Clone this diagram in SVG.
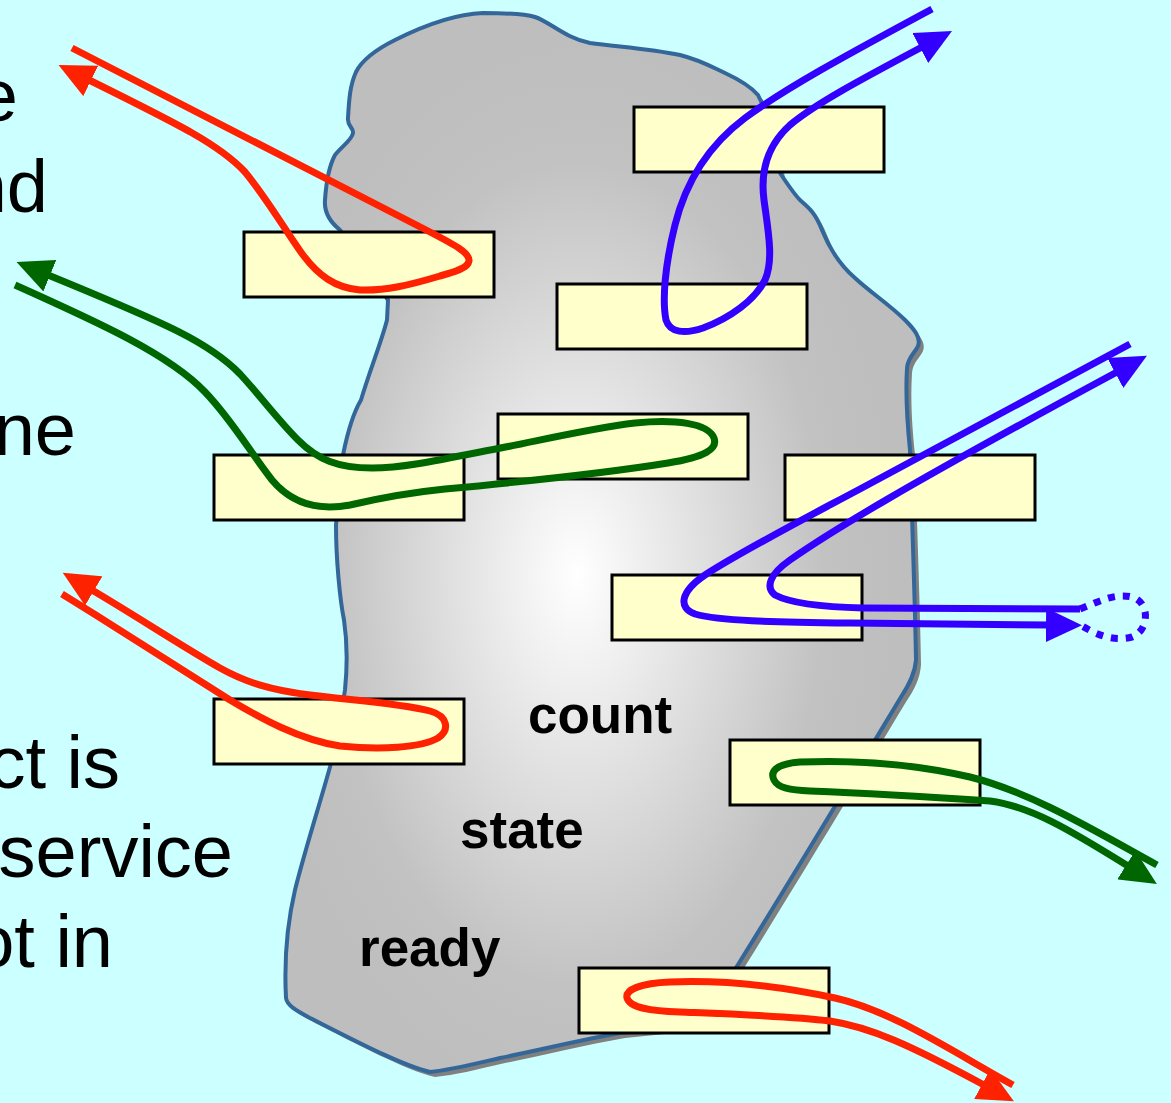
<svg xmlns="http://www.w3.org/2000/svg" width="1171" height="1103" viewBox="0 0 1171 1103">
  <style>
    .bg { fill: #CCFFFF; }
    .box { fill: #FFFFCC; stroke: #000000; stroke-width: 3; }
    .blob { stroke: #336699; stroke-width: 4; stroke-linejoin: round; }
    .shadow { fill: #808080; }
    .lbl { font-family: "Liberation Sans", Arial, sans-serif; font-weight: bold; font-size: 53px; fill: #000000; }
    .side { font-family: "Liberation Sans", Arial, sans-serif; font-size: 74px; fill: #000000; text-anchor: end; }
    .c { fill: none; stroke-width: 7; stroke-linecap: butt; stroke-linejoin: round; }
    .red { stroke: #FF2200; }
    .green { stroke: #006600; }
    .blue { stroke: #3300FF; }
    .dots { stroke-dasharray: 7 8; }
  </style>
  <defs>
    <radialGradient id="grey" cx="0.46" cy="0.53" r="0.5">
      <stop offset="0" stop-color="#FFFFFF"/>
      <stop offset="0.78" stop-color="#C2C2C2"/>
      <stop offset="1" stop-color="#BEBEBE"/>
    </radialGradient>
    <marker id="aRed" viewBox="0 0 36 34" markerWidth="36" markerHeight="34" refX="2" refY="17" orient="auto" markerUnits="userSpaceOnUse">
      <path d="M0,0 L36,17 L0,34 Z" fill="#FF2200"/>
    </marker>
    <marker id="aGreen" viewBox="0 0 36 34" markerWidth="36" markerHeight="34" refX="2" refY="17" orient="auto" markerUnits="userSpaceOnUse">
      <path d="M0,0 L36,17 L0,34 Z" fill="#006600"/>
    </marker>
    <marker id="aBlue" viewBox="0 0 36 34" markerWidth="36" markerHeight="34" refX="2" refY="17" orient="auto" markerUnits="userSpaceOnUse">
      <path d="M0,0 L36,17 L0,34 Z" fill="#3300FF"/>
    </marker>
    <path id="blobPath" d="M 483,13 C 505,13 525,14 535,17 C 550,22 565,38 590,43 C 620,47 650,49 680,55 C 700,60 712,67 725,73 C 740,80 752,88 758,95 L 770,120 L 780,173 C 788,185 795,195 800,200 C 808,207 815,212 822,230 C 830,250 840,265 855,278 C 870,292 890,305 905,320 C 915,330 921,338 918,346 C 915,353 908,357 907,368 C 905,400 908,430 910,450 C 912,520 915,600 916,660 C 915,674 909,685 901,697 C 860,765 800,865 739,963 L 700,1025 L 620,1033 C 580,1040 540,1050 500,1058 C 470,1065 450,1070 430,1072 C 400,1065 350,1038 310,1018 C 295,1010 287,1005 286,998 C 284,960 288,920 295,890 C 305,850 318,810 330,767 L 340,720 L 345,690 C 348,660 347,640 344,620 C 340,600 336,560 336,525 L 343,455 C 348,430 355,410 361,400 C 370,370 382,340 387,320 L 388,300 L 340,230 C 330,222 324,212 325,200 C 326,185 328,168 335,155 C 342,146 352,140 353,133 C 354,128 347,126 348,118 C 349,100 350,85 356,72 C 362,60 375,50 395,40 C 425,25 455,14 483,13 Z"/>
  </defs>

  <rect class="bg" x="0" y="0" width="1171" height="1103"/>

  <g id="side-text">
    <text class="side" x="18" y="121">e</text>
    <text class="side" x="48" y="212">nd</text>
    <text class="side" x="76" y="455">ne</text>
    <text class="side" x="120" y="788">ct is</text>
    <text class="side" x="233" y="877">service</text>
    <text class="side" x="113" y="967">ot in</text>
  </g>

  <g id="object">
    <use href="#blobPath" class="shadow" transform="translate(5,5)"/>
    <use href="#blobPath" class="blob" fill="url(#grey)"/>
  </g>

  <g id="labels">
    <text class="lbl" x="528" y="733">count</text>
    <text class="lbl" x="460" y="848">state</text>
    <text class="lbl" x="359" y="966">ready</text>
  </g>

  <g id="box1"><rect class="box" x="634" y="107" width="250" height="65"/></g>
  <g id="box2"><rect class="box" x="244" y="232" width="250" height="65"/></g>
  <g id="box3"><rect class="box" x="557" y="284" width="250" height="65"/></g>
  <g id="box4"><rect class="box" x="498" y="414" width="250" height="65"/></g>
  <g id="box5"><rect class="box" x="214" y="455" width="250" height="65"/></g>
  <g id="box6"><rect class="box" x="785" y="455" width="250" height="65"/></g>
  <g id="box7"><rect class="box" x="612" y="575" width="250" height="65"/></g>
  <g id="box8"><rect class="box" x="214" y="699" width="250" height="65"/></g>
  <g id="box9"><rect class="box" x="730" y="740" width="250" height="65"/></g>
  <g id="box10"><rect class="box" x="579" y="968" width="250" height="65"/></g>

  <g id="connectors">
    <path class="c red" marker-end="url(#aRed)" d="M 72,48 L 430,232 C 455,245 470,253 469,261 C 468,268 455,272 440,276 C 410,285 385,291 360,290 C 335,288 318,275 303,255 C 285,230 268,200 245,172 C 220,145 180,125 89,80"/>
    <path class="c green" marker-end="url(#aGreen)" d="M 15,285 C 100,323 170,355 205,392 C 232,420 250,452 272,480 C 292,504 318,511 350,505 C 380,498 405,493 445,489 C 520,482 600,474 668,463 C 705,457 718,449 714,438 C 708,423 675,419 635,423 C 585,429 530,443 480,452 C 430,462 400,468 372,468 C 338,468 318,460 298,440 C 278,420 262,398 240,374 C 210,343 170,325 48,275"/>
    <path class="c red" marker-end="url(#aRed)" d="M 62,594 C 120,630 180,668 230,700 C 260,718 300,740 340,746 C 380,750 420,748 438,738 C 450,730 448,716 430,711 C 400,703 350,700 310,695 C 270,690 245,682 220,668 C 180,645 136,616 92,590"/>
    <path class="c blue" marker-end="url(#aBlue)" d="M 932,9 C 860,48 790,85 745,118 C 705,148 685,185 675,225 C 665,265 662,300 666,320 C 670,333 685,334 703,328 C 730,318 755,300 765,280 C 774,260 768,230 764,200 C 760,170 768,145 790,125 C 815,104 860,80 922,47"/>
    <path class="c blue" marker-end="url(#aBlue)" d="M 1130,344 L 860,489 C 800,521 740,552 705,575 C 680,592 678,608 695,614 C 720,621 770,622 850,623 L 1048,625"/>
    <path class="c blue" marker-end="url(#aBlue)" d="M 1080,609 L 863,608 C 820,607 790,603 775,595 C 765,587 770,574 790,560 C 830,532 900,489 1117,372"/>
    <path class="c blue dots" d="M 1080,609 C 1100,601 1115,593 1132,597 C 1150,602 1150,630 1132,637 C 1112,642 1096,634 1082,626"/>
    <path class="c green" marker-end="url(#aGreen)" d="M 1157,865 C 1090,828 1030,792 970,777 C 910,763 850,760 800,762 C 775,764 770,772 774,780 C 778,788 790,790 810,791 C 860,793 930,797 990,801 C 1030,806 1070,830 1128,866"/>
    <path class="c red" marker-end="url(#aRed)" d="M 1013,1085 C 950,1050 890,1010 835,998 C 780,986 720,980 670,982 C 640,983 625,990 627,998 C 630,1008 650,1011 680,1012 C 730,1014 790,1016 830,1021 C 870,1027 910,1045 984,1085"/>
  </g>
</svg>
